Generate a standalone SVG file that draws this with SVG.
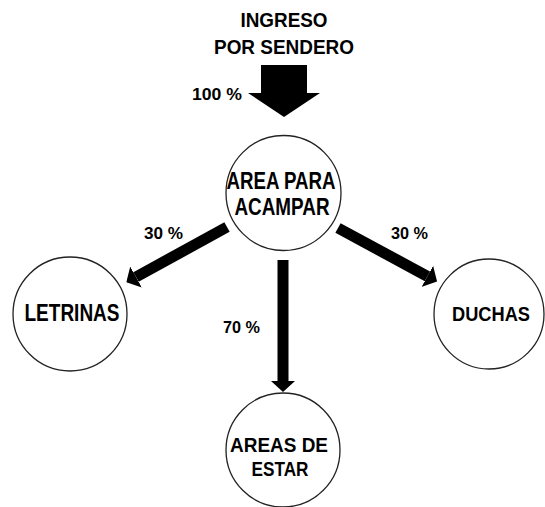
<svg xmlns="http://www.w3.org/2000/svg" width="545" height="507" viewBox="0 0 545 507">
<style>
.node circle{fill:#fff;stroke:#222;stroke-width:1.3}
text{font-family:"Liberation Sans",Arial,sans-serif;font-weight:bold;fill:#000;text-anchor:middle}
.big{font-size:23px}
.mid{font-size:21px}
.top{font-size:21px}
.pct{font-size:17px}
.conn line{stroke:#000;stroke-width:11;fill:none}
</style>
<defs>
<marker id="head" markerUnits="userSpaceOnUse" markerWidth="13" markerHeight="24" refX="0" refY="12" orient="auto">
<path d="M0,0 L11,12 L0,24 z" fill="#000"/>
</marker>
</defs>
<rect width="545" height="507" fill="#fff"/>
<g id="ingreso">
<text class="top" x="284" y="27" textLength="87" lengthAdjust="spacingAndGlyphs">INGRESO</text>
<text class="top" x="284" y="54" textLength="140" lengthAdjust="spacingAndGlyphs">POR SENDERO</text>
</g>
<g class="conn" id="connectors">
<polygon points="261,65 307,65 307,93 320,93 284,117 248,93 261,93" fill="#000"/>
<line x1="227" y1="227" x2="136" y2="277" marker-end="url(#head)"/>
<line x1="338" y1="228" x2="427.4" y2="276.3" marker-end="url(#head)"/>
<line x1="283" y1="260" x2="283" y2="381" marker-end="url(#head)"/>
</g>
<g id="labels">
<text class="pct" x="217" y="100" textLength="50" lengthAdjust="spacingAndGlyphs">100 %</text>
<text class="pct" x="163.5" y="239" textLength="39" lengthAdjust="spacingAndGlyphs">30 %</text>
<text class="pct" x="241.5" y="333" textLength="37" lengthAdjust="spacingAndGlyphs">70 %</text>
<text class="pct" x="409.5" y="239" textLength="37" lengthAdjust="spacingAndGlyphs">30 %</text>
</g>
<g class="node" id="area-acampar">
<circle cx="283.5" cy="193" r="57.5"/>
<text class="big" x="281" y="189" textLength="109" lengthAdjust="spacingAndGlyphs">AREA PARA</text>
<text class="big" x="282" y="215" textLength="95" lengthAdjust="spacingAndGlyphs">ACAMPAR</text>
</g>
<g class="node" id="letrinas">
<circle cx="70" cy="314" r="57"/>
<text class="big" x="72" y="321" textLength="95" lengthAdjust="spacingAndGlyphs">LETRINAS</text>
</g>
<g class="node" id="duchas">
<circle cx="489" cy="314" r="55"/>
<text class="mid" x="491" y="321" textLength="78" lengthAdjust="spacingAndGlyphs">DUCHAS</text>
</g>
<g class="node" id="areas-estar">
<circle cx="283" cy="450" r="57"/>
<text class="mid" x="279" y="452" textLength="98" lengthAdjust="spacingAndGlyphs">AREAS DE</text>
<text class="mid" x="280" y="476" textLength="57" lengthAdjust="spacingAndGlyphs">ESTAR</text>
</g>
</svg>
